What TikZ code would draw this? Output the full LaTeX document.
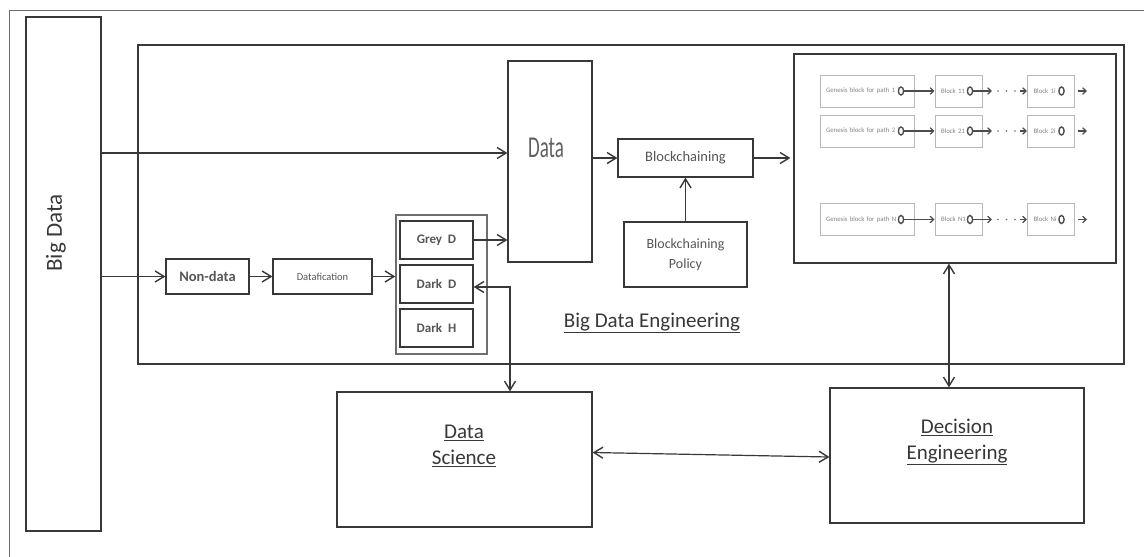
\documentclass[tikz,border=0pt]{standalone}
\usepackage{fontspec}
\setmainfont{Carlito}
\usetikzlibrary{arrows.meta,shapes.geometric,calc}
\definecolor{ink}{HTML}{383838}
\definecolor{soft}{HTML}{6E6E6E}
\definecolor{pale}{HTML}{B8B8B8}
\definecolor{paletext}{HTML}{858585}
\newcommand\fs[2]{\fontsize{#1}{#2}\selectfont}

\tikzset{
  box/.style={draw=ink, line width=1.2pt, inner sep=0pt, text=ink, align=center},
  chip/.style={draw=pale, line width=1pt, inner ysep=0pt, inner xsep=6pt,
    text=paletext, align=left, minimum height=32pt, font=\fs{6.8}{8}},
  ring/.style={draw=ink!90, line width=1.4pt, ellipse, inner sep=0pt,
    minimum width=5.2pt, minimum height=8pt},
  tip/.tip={Straight Barb[length=9pt,width=11pt,line width=1.4pt]},
  arr/.style={draw=ink, line width=1.2pt, -tip},
  biarr/.style={draw=ink, line width=1.2pt, tip-tip},
  tiny/.style={draw=ink!90, line width=1.1pt, -{Straight Barb[length=3.5pt,width=6.5pt,line width=1.2pt]}},
  dotrow/.style={draw=ink!75, line width=1.7pt, line cap=round, dash pattern=on 0pt off 8.5pt},
  frame/.style={draw=soft, line width=1pt},
}

\begin{document}
\begin{tikzpicture}[x=1pt,y=-1pt]
\useasboundingbox (0,0) rectangle (1144,557);
\clip (0,0) rectangle (1144,557);
\fill[white] (0,0) rectangle (1144,557);

% outer page frame (continues past the right and bottom edges)
\coordinate (fa) at (9,580);
\coordinate (fb) at (9,10);
\coordinate (fc) at (1170,10);
\draw[frame] (fa) -- (fb) -- (fc);

% Big Data column
\node[box, minimum width=75pt, minimum height=514pt] (bigdata) at (63.5,274) {};
\node[rotate=90, text=ink, font=\fs{23}{28}] (bigdatalbl) at (56,233) {Big Data};

% Big Data Engineering frame
\node[box, minimum width=986pt, minimum height=319pt] (bde) at (631,204.5) {};
\node[text=ink, font=\fs{21}{26}] (bdelbl) at (652,323) {\underline{Big Data Engineering}};

% data path
\node[box, minimum width=84pt, minimum height=201pt] (data) at (550,161.5) {};
\node[text=ink!80, font=\fs{19}{23}] (datalbl) at (546,148) {\scalebox{1}[1.6]{Data}};
\node[box, minimum width=135pt, minimum height=38pt, font=\fs{14.5}{18}, text=ink!85] (blockch) at (685.5,158) {Blockchaining};
\node[box, minimum width=123pt, minimum height=65pt, font=\fs{14}{20}, text=ink!85] (policy) at (685.5,254.5) {Blockchaining\\Policy};

% non-data path
\node[box, minimum width=83pt, minimum height=35pt, font=\fs{14.5}{18}\bfseries, text=ink!85] (nondata) at (207.5,276.5) {Non-data};
\node[box, minimum width=99pt, minimum height=35pt, font=\fs{10.5}{13}, text=ink!85] (datafic) at (322.5,276.5) {Datafication};
\node[box, draw=soft, line width=1.3pt, minimum width=91pt, minimum height=139pt] (group) at (441.5,284.5) {};
\node[box, line width=1.3pt, minimum width=73pt, minimum height=38pt, font=\fs{13}{16}\bfseries, text=ink!85] (greyd) at (436.5,240) {Grey\ \ D};
\node[box, line width=1.3pt, minimum width=73pt, minimum height=38pt, font=\fs{13}{16}\bfseries, text=ink!85] (darkd) at (436.5,284) {Dark\ \ D};
\node[box, line width=1.3pt, minimum width=73pt, minimum height=38pt, font=\fs{13}{16}\bfseries, text=ink!85] (darkh) at (436.5,328) {Dark\ \ H};

% blockchain paths panel
\node[box, minimum width=322pt, minimum height=209pt] (chainbox) at (955,158.5) {};
\foreach \r/\y/\gt/\bt/\lt in {
    1/91/{Genesis block for path 1}/{Block 11}/{Block 1i},
    2/131/{Genesis block for path 2}/{Block 21}/{Block 2i},
    N/219.5/{Genesis block for path N}/{Block N1}/{Block Ni}} {
  \node[chip, minimum width=94pt, text width=82pt] (g\r) at (867,\y) {\gt};
  \node[chip, minimum width=47pt, text width=35pt] (b\r) at (958.5,\y) {\bt};
  \node[chip, minimum width=47pt, text width=35pt] (i\r) at (1051,\y) {\lt};
  \node[ring] (og\r) at (901,\y) {};
  \node[ring] (ob\r) at (970,\y) {};
  \node[ring] (oi\r) at (1061.5,\y) {};
  \coordinate (pa\r) at (992,\y);
  \coordinate (pb\r) at (998,\y);
  \coordinate (pc\r) at (1016.5,\y);
  \coordinate (pd\r) at (1019.5,\y);
  \draw[tiny] (og\r) -- (b\r.west |- og\r);
  \draw[tiny] (ob\r) -- (pa\r);
  \draw[dotrow] (pb\r) -- (pc\r);
  \draw[tiny] (pd\r) -- (i\r.west |- pd\r);
  \draw[tiny] ($(i\r.east)+(3,0)$) -- ($(i\r.east)+(12,0)$);
}

% lower boxes
\node[box, minimum width=255pt, minimum height=135pt] (datasci) at (464.5,459.5) {};
\node[text=ink, font=\fs{21}{26}, align=center] (datascilbl) at (464,446) {\underline{Data}\\\underline{Science}};
\node[box, minimum width=254pt, minimum height=135pt] (decision) at (957,455.5) {};
\node[text=ink, font=\fs{21}{26}, align=center] (decisionlbl) at (957,442) {\underline{Decision}\\\underline{Engineering}};

% connectors
\coordinate (r1) at (0,153);
\draw[arr] (bigdata.east |- r1) -- (data.west |- r1);
\draw[arr] (bigdata.east |- nondata.west) -- (nondata.west);
\draw[arr] (nondata.east) -- (datafic.west);
\draw[arr] (datafic.east) -- (group.west |- datafic.east);
\draw[arr] (greyd.east) -- (data.west |- greyd.east);
\draw[arr] (data.east |- blockch.west) -- (blockch.west);
\draw[arr, shorten >=3pt] (blockch.east) -- (chainbox.west |- blockch.east);
\draw[arr] (policy.north) -- (blockch.south);
\coordinate (dd) at (510,287);
\draw[biarr] (darkd.east |- dd) -- (dd) -- (dd |- datasci.north);
\coordinate (vx) at (949,0);
\draw[biarr] (chainbox.south -| vx) -- (decision.north -| vx);
\draw[biarr] ($(datasci.east)+(0,-7)$) -- ($(decision.west)+(0,1.5)$);
\end{tikzpicture}
\end{document}
